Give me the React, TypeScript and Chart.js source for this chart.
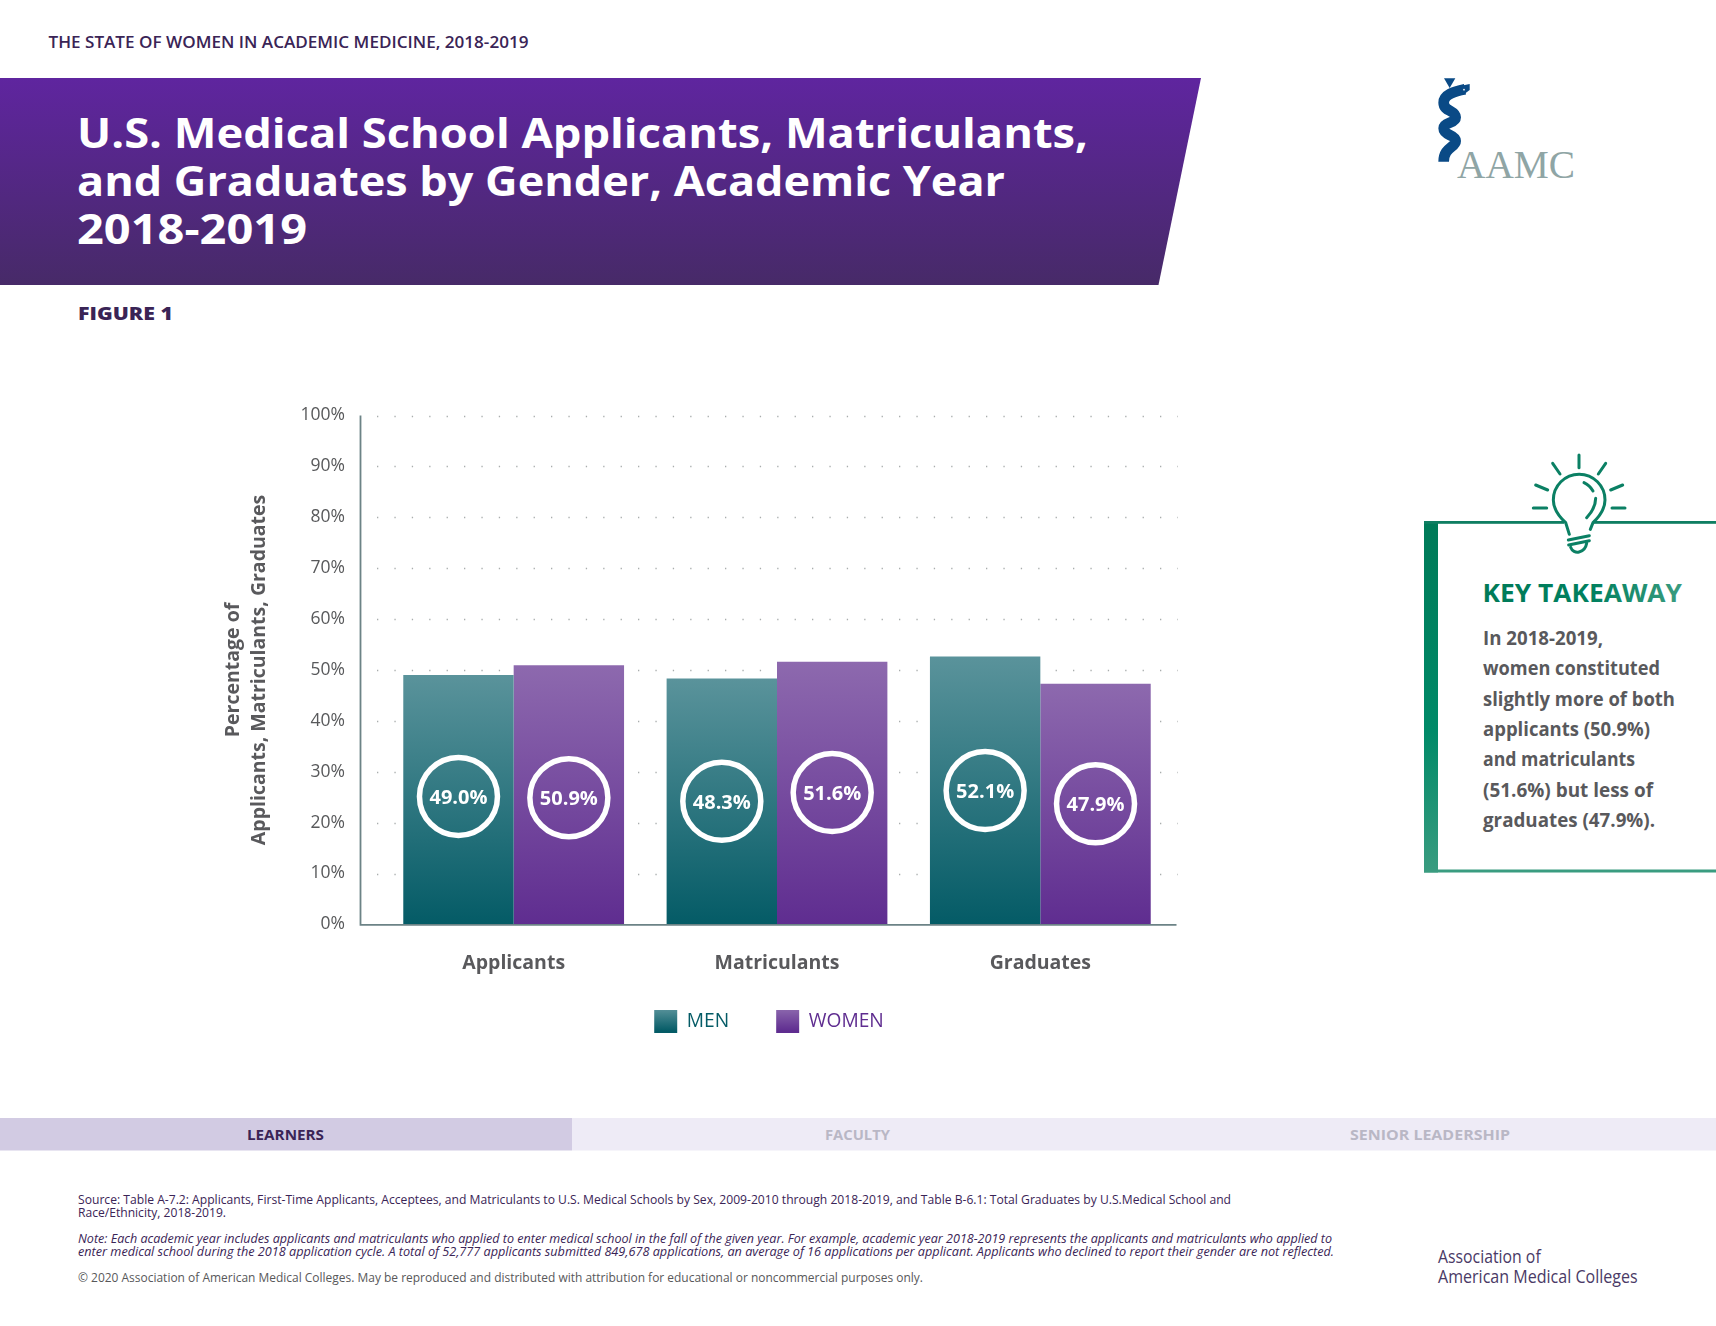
import React, { useEffect, useRef } from "react";
import { Chart, registerables } from "chart.js";

Chart.register(...registerables);

const categories = ["Applicants", "Matriculants", "Graduates"];
const seriesNames = ["MEN", "WOMEN"];
// bar heights as drawn in the picture
const menValues = [49.0, 48.3, 52.65];
const womenValues = [50.9, 51.6, 47.3];
// printed figures in the circles
const menLabels = ["49.0%", "48.3%", "52.1%"];
const womenLabels = ["50.9%", "51.6%", "47.9%"];
// height on the value axis of each circle's centre
const menBadgeLevels = [25.15, 24.2, 26.3];
const womenBadgeLevels = [24.9, 25.9, 23.7];
const yAxisTitle = ["Percentage of", "Applicants, Matriculants, Graduates"];

const FONT = '"Open Sans", "Noto Sans", sans-serif';
const DARK = "#3a2456";
const GREY = "#4d4d4f";
const BODY = "#59595c";
const MEN_TOP = "#5a939b";
const MEN_BOTTOM = "#045b66";
const WOMEN_TOP = "#8d69ae";
const WOMEN_BOTTOM = "#5f2d90";

type TP = { x: number; y: number; w: number; size: number; weight?: number; fill?: string; italic?: boolean; family?: string; children: string };
function T({ x, y, w, size, weight = 400, fill = DARK, italic, family = FONT, children }: TP) {
  return (
    <text x={x} y={y} textLength={w} lengthAdjust="spacingAndGlyphs" fontSize={size} fontWeight={weight} fill={fill} fontStyle={italic ? "italic" : "normal"} fontFamily={family}>
      {children}
    </text>
  );
}

const vGrad = (ctx: CanvasRenderingContext2D, top: number, bottom: number, a: string, b: string) => {
  const g = ctx.createLinearGradient(0, top, 0, bottom);
  g.addColorStop(0, a);
  g.addColorStop(1, b);
  return g;
};

const barFill = (a: string, b: string) => (c: any) => {
  const chart = c.chart;
  if (!chart.chartArea || c.dataIndex == null) return b;
  const y = chart.scales.y;
  return vGrad(chart.ctx, y.getPixelForValue(c.dataset.data[c.dataIndex]), y.getPixelForValue(0), a, b);
};

const framePlugin = {
  id: "frame",
  afterLayout(chart: any) {
    const l = chart.legend;
    const shift = 769 - (l.left + l.right) / 2;
    l.left += shift;
    l.right += shift;
    const h = l.bottom - l.top;
    l.top = 963;
    l.bottom = 963 + h;
  },
  beforeDatasetsDraw(chart: any) {
    const { ctx, scales } = chart;
    const y = scales.y;
    ctx.save();
    ctx.strokeStyle = "#a9adad";
    ctx.lineWidth = 1.3;
    ctx.lineCap = "butt";
    ctx.setLineDash([1.3, 16.1]);
    y.ticks.forEach((t: any) => {
      if (t.value === 0) return;
      const py = Math.round(y.getPixelForValue(t.value)) + 0.5;
      ctx.beginPath();
      ctx.moveTo(377, py);
      ctx.lineTo(1178, py);
      ctx.stroke();
    });
    ctx.restore();
  },
  afterDatasetsDraw(chart: any) {
    const { ctx, scales } = chart;
    const y = scales.y;
    const y0 = y.getPixelForValue(0);
    const y100 = y.getPixelForValue(100);
    ctx.save();
    ctx.strokeStyle = "#6c8386";
    ctx.lineWidth = 1.8;
    ctx.beginPath();
    ctx.moveTo(360.5, y100);
    ctx.lineTo(360.5, y0 + 0.5);
    ctx.lineTo(1176.5, y0 + 0.5);
    ctx.stroke();
    const groups = [
      { labels: menLabels, levels: menBadgeLevels, meta: chart.getDatasetMeta(0) },
      { labels: womenLabels, levels: womenBadgeLevels, meta: chart.getDatasetMeta(1) },
    ];
    groups.forEach((g) => {
      g.meta.data.forEach((bar: any, i: number) => {
        const cy = y.getPixelForValue(g.levels[i]);
        ctx.strokeStyle = "#ffffff";
        ctx.lineWidth = 5.5;
        ctx.beginPath();
        ctx.arc(bar.x, cy, 39, 0, Math.PI * 2);
        ctx.stroke();
        ctx.fillStyle = "#ffffff";
        ctx.font = `700 20px ${FONT}`;
        ctx.textAlign = "center";
        ctx.textBaseline = "middle";
        ctx.fillText(g.labels[i], bar.x, cy + 2);
      });
    });
    ctx.restore();
  },
};

export default function App() {
  const ref = useRef<HTMLCanvasElement>(null);

  useEffect(() => {
    const canvas = ref.current!;
    const chart = new Chart(canvas, {
      type: "bar",
      plugins: [framePlugin],
      data: {
        labels: categories,
        datasets: [
          { label: seriesNames[0], data: menValues, backgroundColor: barFill(MEN_TOP, MEN_BOTTOM), borderWidth: 0 },
          { label: seriesNames[1], data: womenValues, backgroundColor: barFill(WOMEN_TOP, WOMEN_BOTTOM), borderWidth: 0 },
        ],
      },
      options: {
        responsive: false,
        devicePixelRatio: 1,
        animation: false,
        layout: { padding: { left: 210, right: 544, top: 415.5, bottom: 261.6 } },
        datasets: { bar: { categoryPercentage: 220.5 / 263, barPercentage: 1 } },
        scales: {
          x: {
            grid: { display: false },
            border: { display: false },
            ticks: { padding: 19, color: BODY, font: { family: FONT, size: 19.5, weight: 700 }, maxRotation: 0 },
            afterFit: (s: any) => { s.height = 60; },
          },
          y: {
            min: 0,
            max: 100,
            grid: { display: false },
            border: { display: false },
            ticks: { stepSize: 10, padding: 29, color: "#58595b", font: { family: FONT, size: 17.5 }, callback: (v: any) => `${v}%` },
            title: {
              display: true,
              text: yAxisTitle,
              color: BODY,
              padding: { top: 10, bottom: 0 },
              font: { family: FONT, size: 19.5, weight: 700, lineHeight: 26 / 19.5 },
            },
            afterFit: (s: any) => { s.width = 172; },
          },
        },
        plugins: {
          tooltip: { enabled: false },
          title: { display: false },
          legend: {
            position: "bottom",
            labels: {
              boxWidth: 23,
              boxHeight: 23,
              padding: 47,
              font: { family: FONT, size: 19.2 },
              generateLabels: (c: any) => [
                { text: seriesNames[0], fillStyle: vGrad(c.ctx, 1008, 1031, MEN_TOP, MEN_BOTTOM), fontColor: MEN_BOTTOM, lineWidth: 0, strokeStyle: "transparent", hidden: false, datasetIndex: 0 },
                { text: seriesNames[1], fillStyle: vGrad(c.ctx, 1008, 1031, WOMEN_TOP, WOMEN_BOTTOM), fontColor: WOMEN_BOTTOM, lineWidth: 0, strokeStyle: "transparent", hidden: false, datasetIndex: 1 },
              ],
            },
          },
        },
      },
    } as any);
    return () => chart.destroy();
  }, []);

  return (
    <div style={{ position: "absolute", left: 0, top: 0, width: 1716, height: 1326, background: "#fff", overflow: "hidden" }}>
      <svg width={1716} height={1326} viewBox="0 0 1716 1326" style={{ position: "absolute", left: 0, top: 0 }}>
        <defs>
          <linearGradient id="banner" x1="0" y1="0" x2="0" y2="1">
            <stop offset="0" stopColor="#5f259f" />
            <stop offset="1" stopColor="#472a68" />
          </linearGradient>
          <linearGradient id="greenV" gradientUnits="userSpaceOnUse" x1="0" y1="521" x2="0" y2="872">
            <stop offset="0" stopColor="#007a58" />
            <stop offset="0.6" stopColor="#008a68" />
            <stop offset="1" stopColor="#3a9c80" />
          </linearGradient>
          <linearGradient id="greenH" gradientUnits="userSpaceOnUse" x1="1483" y1="0" x2="1682" y2="0">
            <stop offset="0" stopColor="#007a58" />
            <stop offset="0.55" stopColor="#00805f" />
            <stop offset="1" stopColor="#3a9c80" />
          </linearGradient>
        </defs>

        <T x={48.5} y={47.7} w={480} size={16.5} weight={600}>THE STATE OF WOMEN IN ACADEMIC MEDICINE, 2018-2019</T>
        <polygon points="0,78 1201,78 1158.5,285 0,285" fill="url(#banner)" />
        <T x={77} y={148.3} w={1011} size={42} weight={700} fill="#fff">U.S. Medical School Applicants, Matriculants,</T>
        <T x={77} y={196} w={928} size={42} weight={700} fill="#fff">and Graduates by Gender, Academic Year</T>
        <T x={77} y={244.3} w={230} size={42} weight={700} fill="#fff">2018-2019</T>
        <T x={78} y={320} w={95} size={17} weight={800}>FIGURE 1</T>

        {/* logo */}
        <svg x={1400} y={60} width={316} height={140} viewBox="0 0 948 420">
          <polygon points="132,55 166,55 149,84" fill="#0a4a86" />
          <path d="M 195 88 C 160 95 131 105 131 128 C 131 155 167 150 167 172 C 167 192 131 185 131 205 C 131 228 167 222 167 243 C 167 262 131 262 131 305" fill="none" stroke="#0a4a86" strokeWidth="32" />
          <path d="M 180 78 L 209 72 L 209 90 L 190 104 Z" fill="#0a4a86" />
          <circle cx="192" cy="89" r="2.5" fill="#fff" />
        </svg>
        <T x={1457} y={177.5} w={118} size={40} family='"Liberation Serif", serif' fill="#8fa5a5">AAMC</T>

        {/* takeaway box */}
        <rect x={1424} y={521} width={14} height={351.5} fill="url(#greenV)" />
        <rect x={1424} y={521} width={292} height={2.8} fill="#0f7e62" />
        <rect x={1424} y={869.5} width={292} height={3} fill="#3a9c80" />
        <svg x={1410} y={440} width={306} height={150} viewBox="0 0 918 450">
          <rect x={462} y={235} width={88} height={30} fill="#fff" />
          <g fill="none" stroke="#0b8064" strokeWidth="9" strokeLinecap="round">
            <path d="M 478 283 L 467 248 C 442 225 430 205 430 180 A 77 77 0 1 1 585 180 C 585 205 570 228 549 248 L 541 268" />
            <path d="M 522 128 Q 540 137 549 153" />
            <path d="M 557 175 Q 557 205 530 233" />
            <path d="M 475 300 L 538 287" />
            <path d="M 476 315 L 538 302" />
            <path d="M 482 322 C 490 345 525 340 530 310" />
            <path d="M 507 45 L 507 83" />
            <path d="M 428 70 L 450 102" />
            <path d="M 587 70 L 565 102" />
            <path d="M 377 135 L 413 150" />
            <path d="M 638 135 L 602 150" />
            <path d="M 370 204 L 410 204" />
            <path d="M 606 204 L 645 204" />
          </g>
        </svg>
        <T x={1482.5} y={601.7} w={199.5} size={24.5} weight={700} fill="url(#greenH)">KEY TAKEAWAY</T>
        <T x={1483} y={645} w={120} size={20} weight={700} fill={BODY}>In 2018-2019,</T>
        <T x={1483} y={675.3} w={177} size={20} weight={700} fill={BODY}>women constituted</T>
        <T x={1483} y={705.5} w={192} size={20} weight={700} fill={BODY}>slightly more of both</T>
        <T x={1483} y={736} w={167} size={20} weight={700} fill={BODY}>applicants (50.9%)</T>
        <T x={1483} y={766} w={152} size={20} weight={700} fill={BODY}>and matriculants</T>
        <T x={1483} y={796.5} w={170} size={20} weight={700} fill={BODY}>(51.6%) but less of</T>
        <T x={1483} y={826.5} w={172} size={20} weight={700} fill={BODY}>graduates (47.9%).</T>

        {/* section band */}
        <rect x={0} y={1118} width={572} height={32.5} fill="#d2cbe3" />
        <rect x={572} y={1118} width={1144} height={32.5} fill="#eeebf6" />
        <T x={247} y={1140} w={77} size={14.5} weight={700}>LEARNERS</T>
        <T x={825} y={1140} w={65} size={14.5} weight={700} fill="#b9b7c5">FACULTY</T>
        <T x={1350} y={1140} w={160} size={14.5} weight={700} fill="#b9b7c5">SENIOR LEADERSHIP</T>

        {/* footnotes */}
        <T x={78} y={1204} w={1153} size={12.5}>Source: Table A-7.2: Applicants, First-Time Applicants, Acceptees, and Matriculants to U.S. Medical Schools by Sex, 2009-2010 through 2018-2019, and Table B-6.1: Total Graduates by U.S.Medical School and</T>
        <T x={78} y={1217} w={148} size={12.5}>Race/Ethnicity, 2018-2019.</T>
        <T x={78} y={1243} w={1254} size={12.5} italic>Note: Each academic year includes applicants and matriculants who applied to enter medical school in the fall of the given year. For example, academic year 2018-2019 represents the applicants and matriculants who applied to</T>
        <T x={78} y={1256} w={1256} size={12.5} italic>enter medical school during the 2018 application cycle. A total of 52,777 applicants submitted 849,678 applications, an average of 16 applications per applicant. Applicants who declined to report their gender are not reflected.</T>
        <T x={78} y={1282} w={845} size={12.5} fill="#58585a">© 2020 Association of American Medical Colleges. May be reproduced and distributed with attribution for educational or noncommercial purposes only.</T>
        <T x={1438} y={1262.7} w={102.7} size={18} fill="#4a3a66">Association of</T>
        <T x={1438} y={1282.7} w={199.7} size={18} fill="#4a3a66">American Medical Colleges</T>
      </svg>
      <canvas ref={ref} width={1716} height={1326} style={{ position: "absolute", left: 0, top: 0, display: "block" }} />
    </div>
  );
}
